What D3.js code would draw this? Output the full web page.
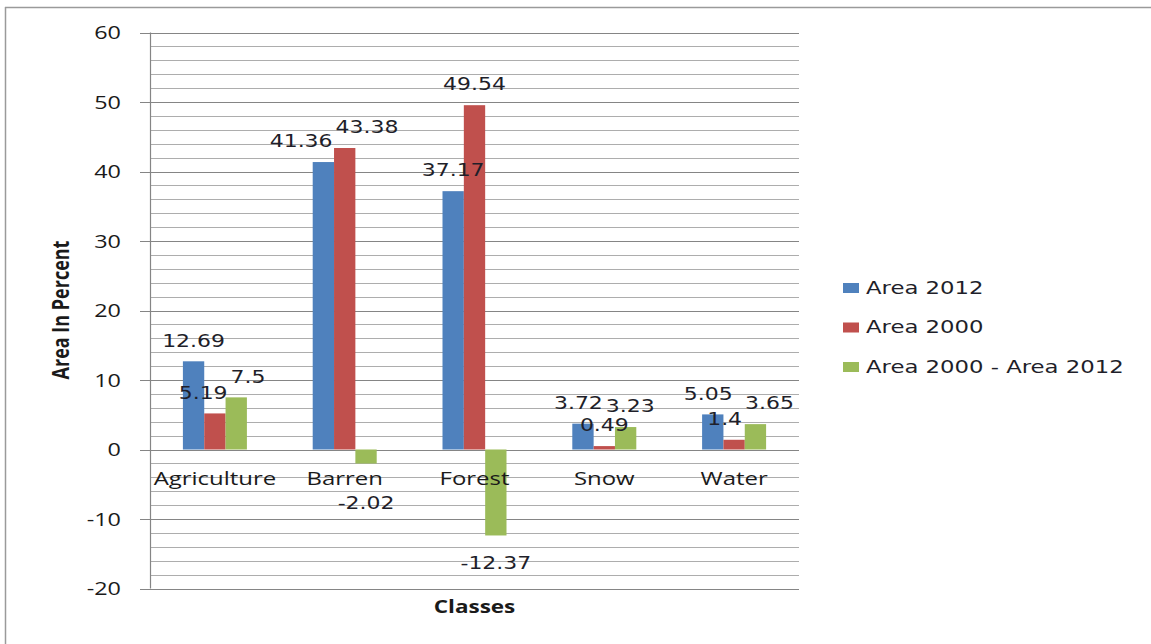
<!DOCTYPE html>
<html>
<head>
<meta charset="utf-8">
<script src="https://cdn.jsdelivr.net/npm/d3@7"></script>
<style>
  html, body { margin: 0; padding: 0; background: #fff; }
  svg { display: block; }
</style>
</head>
<body>
<svg id="chart" width="1151" height="644"></svg>
<script>
// ---- data ----
const categories = ["Agriculture", "Barren", "Forest", "Snow", "Water"];
const seriesNames = ["Area 2012", "Area 2000", "Area 2000 - Area 2012"];
const area2012 = [12.69, 41.36, 37.17, 3.72, 5.05];
const area2000 = [5.19, 43.38, 49.54, 0.49, 1.4];
const areaDiff = [7.5, -2.02, -12.37, 3.23, 3.65];
const yTicks = [-20, -10, 0, 10, 20, 30, 40, 50, 60];
const yTitle = "Area In Percent";
const xTitle = "Classes";

const seriesValues = [area2012, area2000, areaDiff];
const colors = ["#4F81BD", "#C0504D", "#9BBB59"];

// ---- layout ----
const svg = d3.select("#chart");
const plot = { left: 150, right: 799, top: 32.5, bottom: 588.5 };

const x0 = d3.scaleBand().domain(categories).range([plot.left, plot.right]);
const groupW = 64;
const x1 = d3.scaleBand().domain(seriesNames).range([0, groupW]).padding(0);
const y = d3.scaleLinear().domain([-20, 60]).range([plot.bottom, plot.top]);
const catLabelY = 478;

// outer frame (top + left visible)
svg.append("line").attr("x1", 5).attr("x2", 1151).attr("y1", 7.5).attr("y2", 7.5)
  .attr("stroke", "#9a9a9a").attr("stroke-width", 1.5);
svg.append("line").attr("x1", 5.5).attr("x2", 5.5).attr("y1", 7).attr("y2", 644)
  .attr("stroke", "#9a9a9a").attr("stroke-width", 1.5);

// minor gridlines every 2
const minor = d3.range(-20, 61, 2).filter(v => v % 10 !== 0);
svg.append("g").selectAll("line").data(minor).join("line")
  .attr("x1", plot.left).attr("x2", plot.right)
  .attr("y1", d => Math.round(y(d)) + 0.5).attr("y2", d => Math.round(y(d)) + 0.5)
  .attr("stroke", "#adadad").attr("stroke-width", 1);

// major gridlines / tick lines
svg.append("g").selectAll("line").data(yTicks).join("line")
  .attr("x1", plot.left - 10).attr("x2", plot.right)
  .attr("y1", d => Math.round(y(d)) + 0.5).attr("y2", d => Math.round(y(d)) + 0.5)
  .attr("stroke", "#858585").attr("stroke-width", 1.2);

// y axis line
svg.append("line").attr("x1", plot.left + 0.5).attr("x2", plot.left + 0.5)
  .attr("y1", plot.top).attr("y2", plot.bottom)
  .attr("stroke", "#858585").attr("stroke-width", 1.2);

// helper for horizontally stretched text
function stretchedText(g, x, yy, txt, opts) {
  const sx = opts.sx || 1;
  const t = g.append("text")
    .attr("transform", `translate(${x},${yy}) scale(${sx},1)` + (opts.rotate ? ` rotate(${opts.rotate})` : ""))
    .attr("text-anchor", opts.anchor || "middle")
    .attr("dominant-baseline", "central")
    .attr("font-family", opts.font || "'Open Sans', sans-serif")
    .attr("font-size", opts.size || 18)
    .attr("font-weight", opts.weight || "normal")
    .attr("fill", opts.fill || "#1a1a1a")
    .text(txt);
  return t;
}

// y tick labels
const gy = svg.append("g");
yTicks.forEach(v => {
  stretchedText(gy, 121, y(v), String(v), { anchor: "end", sx: 1.3, size: 18 });
});

// bars
const gBars = svg.append("g");
categories.forEach((c, i) => {
  const gx = x0(c) + x0.bandwidth() / 2 - groupW / 2;
  seriesNames.forEach((s, j) => {
    const v = seriesValues[j][i];
    gBars.append("rect")
      .attr("x", gx + x1(s))
      .attr("width", x1.bandwidth())
      .attr("y", y(Math.max(0, v)))
      .attr("height", Math.abs(y(v) - y(0)))
      .attr("fill", colors[j]);
  });
});

// category labels
const gx = svg.append("g");
categories.forEach(c => {
  stretchedText(gx, x0(c) + x0.bandwidth() / 2, catLabelY, c, { sx: 1.33, size: 18 });
});

// data labels with simple collision spreading inside each group
const gLab = svg.append("g");
const labSx = 1.22, labH = 14, labPad = 3;
categories.forEach((c, i) => {
  const gxx = x0(c) + x0.bandwidth() / 2 - groupW / 2;
  const labs = seriesNames.map((s, j) => {
    const v = seriesValues[j][i];
    const cx = gxx + x1(s) + x1.bandwidth() / 2;
    const cy = v >= 0 ? y(v) - 21 : Math.max(y(v) + 27, catLabelY + 25);
    const t = stretchedText(gLab, cx, cy, String(v), {
      sx: labSx, size: 18, font: "'DejaVu Sans', sans-serif", fill: "#1f1f2a"
    });
    const w = t.node().getComputedTextLength() * labSx;
    return { t, cx, cy, w };
  });
  for (let iter = 0; iter < 4; iter++) {
    for (let k = 0; k < labs.length; k++) {
      for (let m = k + 1; m < labs.length; m++) {
        const a = labs[k], b = labs[m];
        const vOverlap = Math.abs(a.cy - b.cy) < labH + labPad;
        const hOverlap = (a.cx + a.w / 2 + labPad) - (b.cx - b.w / 2);
        if (vOverlap && hOverlap > 0) {
          a.cx -= hOverlap / 2;
          b.cx += hOverlap / 2;
        }
      }
    }
  }
  labs.forEach(l => l.t.attr("transform", `translate(${l.cx},${l.cy}) scale(${labSx},1)`));
});

// axis titles
stretchedText(svg, plot.left + (plot.right - plot.left) / 2, 606, xTitle,
  { sx: 1.25, size: 18, weight: "bold" });
stretchedText(svg, 60, 310, yTitle,
  { sx: 1.25, size: 18, weight: "bold", rotate: -90 });

// legend
const legend = svg.append("g");
const legendY = [288, 327.5, 367];
seriesNames.forEach((s, j) => {
  legend.append("rect").attr("x", 843).attr("y", legendY[j] - 5).attr("width", 16).attr("height", 10)
    .attr("fill", colors[j]);
  stretchedText(legend, 866, legendY[j], s, {
    anchor: "start", sx: 1.34, size: 17, font: "'DejaVu Sans', sans-serif", fill: "#1f1f2a"
  });
});
</script>
</body>
</html>
